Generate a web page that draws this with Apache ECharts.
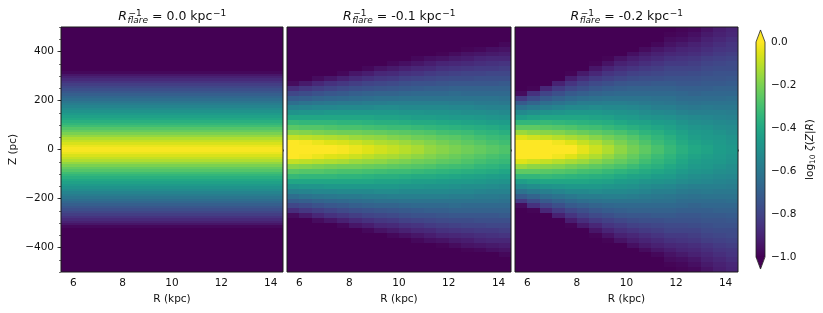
<!DOCTYPE html>
<html>
<head>
<meta charset="utf-8">
<script src="https://cdn.jsdelivr.net/npm/echarts@6/dist/echarts.min.js"></script>
<style>
  html, body { margin: 0; padding: 0; background: #fff; }
  #chart { width: 823px; height: 313px; }
</style>
</head>
<body>
<div id="chart"></div>
<script>
const FONT = 'DejaVu Sans';

// cell centres of the images: R columns (kpc) and |Z| rows (pc), symmetric in Z
const rCols = [5.75, 6.25, 6.75, 7.25, 7.75, 8.25, 8.75, 9.25, 9.75,
  10.25, 10.75, 11.25, 11.75, 12.25, 12.75, 13.25, 13.75, 14.25];
const zHalf = [10, 30, 50, 70, 90, 110, 130, 150, 170, 190, 210, 230, 250,
  270, 290, 310, 330, 350, 370, 390, 410, 430, 450, 470, 490];
const zHalfFine = [5, 15, 25, 35, 45, 55, 65, 75, 85, 95, 105, 115, 125, 135, 145,
  155, 165, 175, 185, 195, 205, 215, 225, 235, 245, 255, 265, 275, 285, 295,
  305, 315, 325, 335, 345, 355, 365, 375, 385, 395, 405, 415, 425, 435, 445,
  455, 465, 475, 485, 495];
const cellR = 0.5;

const flareLabels = ['0.0', '-0.1', '-0.2'];

// log10 zeta(Z|R), no flaring: same vertical profile at every R (rows of zHalfFine)
const profileFlat = [-0.01, -0.03, -0.06, -0.09, -0.12, -0.16, -0.20, -0.24, -0.27, -0.31,
  -0.34, -0.37, -0.40, -0.43, -0.46, -0.49, -0.52, -0.55, -0.58, -0.61,
  -0.64, -0.67, -0.70, -0.73, -0.76, -0.79, -0.82, -0.85, -0.88, -0.91,
  -0.94, -0.98, -1, -1, -1, -1, -1, -1, -1, -1,
  -1, -1, -1, -1, -1, -1, -1, -1, -1, -1];

// R_flare^-1 = -0.1 : one array per R column, values along |Z| (rows of zHalf)
const profileFlare01 = [
  [0.07, 0.00, -0.09, -0.18, -0.26, -0.33, -0.41, -0.49, -0.56, -0.64, -0.71, -0.79, -0.87, -0.97, -1, -1, -1, -1, -1, -1, -1, -1, -1, -1, -1],
  [0.05, -0.01, -0.10, -0.19, -0.27, -0.34, -0.41, -0.48, -0.55, -0.62, -0.70, -0.77, -0.84, -0.93, -1, -1, -1, -1, -1, -1, -1, -1, -1, -1, -1],
  [0.03, -0.03, -0.11, -0.20, -0.27, -0.34, -0.41, -0.48, -0.54, -0.61, -0.68, -0.75, -0.82, -0.89, -0.97, -1, -1, -1, -1, -1, -1, -1, -1, -1, -1],
  [0.01, -0.05, -0.12, -0.21, -0.28, -0.34, -0.41, -0.47, -0.54, -0.60, -0.67, -0.73, -0.80, -0.86, -0.94, -1, -1, -1, -1, -1, -1, -1, -1, -1, -1],
  [-0.01, -0.06, -0.13, -0.22, -0.29, -0.35, -0.41, -0.47, -0.53, -0.59, -0.66, -0.72, -0.78, -0.84, -0.91, -0.98, -1, -1, -1, -1, -1, -1, -1, -1, -1],
  [-0.03, -0.08, -0.15, -0.22, -0.29, -0.35, -0.41, -0.47, -0.53, -0.59, -0.65, -0.70, -0.76, -0.82, -0.88, -0.94, -1, -1, -1, -1, -1, -1, -1, -1, -1],
  [-0.05, -0.10, -0.16, -0.23, -0.30, -0.36, -0.41, -0.47, -0.53, -0.58, -0.64, -0.69, -0.75, -0.80, -0.86, -0.92, -0.98, -1, -1, -1, -1, -1, -1, -1, -1],
  [-0.07, -0.12, -0.17, -0.24, -0.31, -0.37, -0.42, -0.47, -0.52, -0.58, -0.63, -0.68, -0.74, -0.79, -0.84, -0.89, -0.95, -1, -1, -1, -1, -1, -1, -1, -1],
  [-0.09, -0.13, -0.19, -0.25, -0.32, -0.37, -0.42, -0.47, -0.52, -0.57, -0.63, -0.68, -0.73, -0.78, -0.83, -0.88, -0.93, -0.98, -1, -1, -1, -1, -1, -1, -1],
  [-0.11, -0.15, -0.20, -0.26, -0.32, -0.38, -0.43, -0.48, -0.53, -0.57, -0.62, -0.67, -0.72, -0.76, -0.81, -0.86, -0.91, -0.96, -1, -1, -1, -1, -1, -1, -1],
  [-0.13, -0.17, -0.22, -0.27, -0.33, -0.39, -0.44, -0.48, -0.53, -0.57, -0.62, -0.66, -0.71, -0.75, -0.80, -0.85, -0.89, -0.94, -0.98, -1, -1, -1, -1, -1, -1],
  [-0.16, -0.19, -0.23, -0.28, -0.34, -0.39, -0.44, -0.49, -0.53, -0.57, -0.62, -0.66, -0.70, -0.75, -0.79, -0.83, -0.88, -0.92, -0.96, -1, -1, -1, -1, -1, -1],
  [-0.18, -0.21, -0.25, -0.30, -0.35, -0.40, -0.45, -0.49, -0.53, -0.57, -0.62, -0.66, -0.70, -0.74, -0.78, -0.82, -0.86, -0.90, -0.95, -0.99, -1, -1, -1, -1, -1],
  [-0.20, -0.23, -0.26, -0.31, -0.36, -0.41, -0.46, -0.50, -0.54, -0.58, -0.62, -0.65, -0.69, -0.73, -0.77, -0.81, -0.85, -0.89, -0.93, -0.97, -1, -1, -1, -1, -1],
  [-0.22, -0.25, -0.28, -0.32, -0.37, -0.42, -0.46, -0.51, -0.54, -0.58, -0.62, -0.66, -0.69, -0.73, -0.77, -0.80, -0.84, -0.88, -0.92, -0.95, -0.99, -1, -1, -1, -1],
  [-0.24, -0.27, -0.30, -0.34, -0.38, -0.43, -0.47, -0.51, -0.55, -0.59, -0.62, -0.66, -0.69, -0.73, -0.76, -0.80, -0.83, -0.87, -0.90, -0.94, -0.98, -1, -1, -1, -1],
  [-0.26, -0.29, -0.32, -0.35, -0.39, -0.44, -0.48, -0.52, -0.56, -0.59, -0.62, -0.66, -0.69, -0.73, -0.76, -0.79, -0.83, -0.86, -0.89, -0.93, -0.96, -1, -1, -1, -1],
  [-0.28, -0.31, -0.33, -0.37, -0.41, -0.45, -0.49, -0.53, -0.56, -0.60, -0.63, -0.66, -0.69, -0.72, -0.76, -0.79, -0.82, -0.85, -0.89, -0.92, -0.95, -0.98, -1, -1, -1]
];

// R_flare^-1 = -0.2
const profileFlare02 = [
  [0.16, 0.07, -0.05, -0.15, -0.25, -0.34, -0.44, -0.53, -0.62, -0.72, -0.83, -0.97, -1, -1, -1, -1, -1, -1, -1, -1, -1, -1, -1, -1, -1],
  [0.12, 0.04, -0.07, -0.17, -0.25, -0.34, -0.42, -0.51, -0.59, -0.68, -0.77, -0.86, -0.99, -1, -1, -1, -1, -1, -1, -1, -1, -1, -1, -1, -1],
  [0.08, 0.01, -0.09, -0.18, -0.26, -0.33, -0.41, -0.49, -0.57, -0.64, -0.72, -0.80, -0.89, -1, -1, -1, -1, -1, -1, -1, -1, -1, -1, -1, -1],
  [0.04, -0.02, -0.11, -0.19, -0.27, -0.34, -0.41, -0.48, -0.55, -0.62, -0.69, -0.76, -0.83, -0.91, -1, -1, -1, -1, -1, -1, -1, -1, -1, -1, -1],
  [0.00, -0.05, -0.13, -0.21, -0.28, -0.35, -0.41, -0.47, -0.53, -0.60, -0.66, -0.72, -0.79, -0.85, -0.92, -0.99, -1, -1, -1, -1, -1, -1, -1, -1, -1],
  [-0.04, -0.09, -0.15, -0.23, -0.30, -0.36, -0.41, -0.47, -0.53, -0.58, -0.64, -0.70, -0.76, -0.81, -0.87, -0.93, -1, -1, -1, -1, -1, -1, -1, -1, -1],
  [-0.08, -0.12, -0.18, -0.25, -0.31, -0.37, -0.42, -0.47, -0.52, -0.58, -0.63, -0.68, -0.73, -0.78, -0.83, -0.89, -0.94, -0.99, -1, -1, -1, -1, -1, -1, -1],
  [-0.12, -0.16, -0.21, -0.27, -0.33, -0.38, -0.43, -0.48, -0.53, -0.57, -0.62, -0.67, -0.71, -0.76, -0.81, -0.85, -0.90, -0.95, -0.99, -1, -1, -1, -1, -1, -1],
  [-0.17, -0.20, -0.24, -0.29, -0.35, -0.40, -0.45, -0.49, -0.53, -0.57, -0.62, -0.66, -0.70, -0.74, -0.79, -0.83, -0.87, -0.91, -0.95, -1, -1, -1, -1, -1, -1],
  [-0.21, -0.24, -0.27, -0.32, -0.37, -0.42, -0.46, -0.50, -0.54, -0.58, -0.62, -0.66, -0.69, -0.73, -0.77, -0.81, -0.85, -0.89, -0.92, -0.96, -1, -1, -1, -1, -1],
  [-0.25, -0.28, -0.31, -0.35, -0.39, -0.43, -0.48, -0.52, -0.55, -0.59, -0.62, -0.66, -0.69, -0.73, -0.76, -0.80, -0.83, -0.87, -0.90, -0.93, -0.97, -1, -1, -1, -1],
  [-0.29, -0.32, -0.34, -0.37, -0.41, -0.45, -0.49, -0.53, -0.57, -0.60, -0.63, -0.66, -0.69, -0.72, -0.76, -0.79, -0.82, -0.85, -0.88, -0.91, -0.94, -0.98, -1, -1, -1],
  [-0.33, -0.35, -0.37, -0.40, -0.43, -0.46, -0.50, -0.54, -0.57, -0.61, -0.63, -0.66, -0.69, -0.72, -0.75, -0.78, -0.80, -0.83, -0.86, -0.89, -0.92, -0.95, -0.97, -0.99, -1],
  [-0.37, -0.39, -0.41, -0.43, -0.46, -0.49, -0.52, -0.56, -0.59, -0.62, -0.65, -0.67, -0.70, -0.73, -0.75, -0.78, -0.80, -0.83, -0.85, -0.88, -0.90, -0.93, -0.96, -0.98, -0.99],
  [-0.40, -0.42, -0.44, -0.46, -0.48, -0.51, -0.53, -0.57, -0.60, -0.63, -0.65, -0.68, -0.70, -0.73, -0.75, -0.77, -0.80, -0.82, -0.84, -0.87, -0.89, -0.91, -0.94, -0.96, -0.98],
  [-0.42, -0.44, -0.46, -0.47, -0.49, -0.52, -0.54, -0.57, -0.59, -0.62, -0.65, -0.67, -0.70, -0.72, -0.74, -0.76, -0.78, -0.80, -0.82, -0.85, -0.87, -0.89, -0.91, -0.93, -0.95],
  [-0.45, -0.46, -0.47, -0.49, -0.51, -0.53, -0.55, -0.57, -0.60, -0.62, -0.65, -0.67, -0.69, -0.72, -0.74, -0.75, -0.77, -0.79, -0.81, -0.83, -0.85, -0.87, -0.89, -0.91, -0.92],
  [-0.47, -0.48, -0.49, -0.51, -0.52, -0.54, -0.56, -0.58, -0.60, -0.62, -0.64, -0.67, -0.69, -0.71, -0.73, -0.75, -0.77, -0.78, -0.80, -0.82, -0.84, -0.85, -0.87, -0.89, -0.90]
];

const xMajor = [6, 8, 10, 12, 14];
const yMajor = [-400, -200, 0, 200, 400];
const cbMin = -1.0, cbMax = 0.0;

const viridis = ['#440154', '#471365', '#482475', '#463480', '#414487', '#3b528b', '#355f8d',
  '#2f6c8e', '#2a788e', '#25848e', '#21918c', '#1e9c89', '#22a884', '#2fb47c', '#44bf70',
  '#5ec962', '#7ad151', '#9bd93c', '#bddf26', '#dfe318', '#fde725'];

// [R, Z, log10 zeta, cell height]
function cells(columns, zs, dz) {
  const out = [];
  rCols.forEach((r, i) => {
    zs.forEach((z, j) => {
      out.push([r, z, columns[i][j], dz]);
      out.push([r, -z, columns[i][j], dz]);
    });
  });
  return out;
}
const panelData = [
  cells(rCols.map(() => profileFlat), zHalfFine, 10),
  cells(profileFlare01, zHalf, 20),
  cells(profileFlare02, zHalf, 20)
];

const panels = [
  { left: 61, width: 222 },
  { left: 287, width: 224 },
  { left: 515, width: 223 }
];
const plotTop = 27, plotHeight = 245;
const ink = '#111';
const minus = v => (v < 0 ? '\u2212' + String(-v) : String(v));

const grids = [], xAxes = [], yAxes = [], series = [];

panels.forEach((p, i) => {
  grids.push({
    left: p.left, top: plotTop, width: p.width, height: plotHeight,
    show: true, backgroundColor: 'transparent', borderColor: '#1a1a1a', borderWidth: 1,
    z: 10, outerBoundsMode: 'none', containLabel: false
  });
  xAxes.push({
    type: 'value', gridIndex: i, min: 5.5, max: 14.5, position: 'bottom',
    axisLine: { show: false }, splitLine: { show: false },
    axisTick: { show: true, length: 3.5, customValues: xMajor, lineStyle: { color: ink, width: 0.8 } },
    axisLabel: { customValues: xMajor, fontFamily: FONT, fontSize: 10.5, color: ink, margin: 6 },
    name: 'R (kpc)', nameLocation: 'middle', nameGap: 20,
    nameTextStyle: { fontFamily: FONT, fontSize: 10.5, color: ink }
  });
  xAxes.push({
    type: 'value', gridIndex: i, min: 5.5, max: 14.5, interval: 0.5, position: 'bottom',
    axisLine: { show: false }, splitLine: { show: false }, axisLabel: { show: false },
    axisTick: { show: true, length: 2, lineStyle: { color: ink, width: 0.6 } }
  });
  const first = i === 0;
  yAxes.push({
    type: 'value', gridIndex: i, min: -500, max: 500, position: 'left',
    axisLine: { show: false }, splitLine: { show: false },
    axisTick: { show: first, length: 3.5, customValues: yMajor, lineStyle: { color: ink, width: 0.8 } },
    axisLabel: { show: first, customValues: yMajor, formatter: minus, fontFamily: FONT, fontSize: 10.5, color: ink, margin: 7 },
    name: first ? 'Z (pc)' : '', nameLocation: 'middle', nameGap: 42,
    nameTextStyle: { fontFamily: FONT, fontSize: 10.5, color: ink }
  });
  yAxes.push({
    type: 'value', gridIndex: i, min: -500, max: 500, interval: 50, position: 'left',
    axisLine: { show: false }, splitLine: { show: false }, axisLabel: { show: false },
    axisTick: { show: first, length: 2, lineStyle: { color: ink, width: 0.6 } }
  });
  series.push({
    type: 'custom', xAxisIndex: 2 * i, yAxisIndex: 2 * i, clip: true,
    encode: { x: 0, y: 1 },
    data: panelData[i],
    renderItem: (params, api) => {
      const r = api.value(0), z = api.value(1), dz = api.value(3);
      const a = api.coord([r - cellR / 2, z + dz / 2]);
      const b = api.coord([r + cellR / 2, z - dz / 2]);
      const x0 = Math.round(a[0]), x1 = Math.round(b[0]);
      const y0 = Math.round(a[1]), y1 = Math.round(b[1]);
      return {
        type: 'rect',
        shape: { x: x0, y: y0, width: x1 - x0, height: y1 - y0 },
        style: { fill: api.visual('color'), stroke: null }
      };
    }
  });
});

// colorbar
const CB_EXTEND = 0.056;
grids.push({ left: 756, top: 42, width: 9, height: 215, outerBoundsMode: 'none', containLabel: false });
xAxes.push({ type: 'value', gridIndex: 3, min: 0, max: 1, show: false });
yAxes.push({
  type: 'value', gridIndex: 3, min: cbMin, max: cbMax, interval: 0.2, position: 'right',
  axisLine: { show: false }, splitLine: { show: false },
  axisTick: { show: true, length: 3.5, lineStyle: { color: ink, width: 0.8 } },
  axisLabel: {
    formatter: v => (v < 0 ? '\u2212' + (-v).toFixed(1) : v.toFixed(1)),
    fontFamily: FONT, fontSize: 10.5, color: ink, margin: 6
  },
  name: '{n|log}{s|10}{n| }{i|\u03b6}{n|(}{i|Z}{n||}{i|R}{n|)}',
  nameLocation: 'middle', nameGap: 38,
  nameTextStyle: {
    fontFamily: FONT, color: ink,
    rich: {
      n: { fontFamily: FONT, fontSize: 10.5, color: ink },
      i: { fontFamily: FONT, fontSize: 10.5, fontStyle: 'italic', color: ink },
      s: { fontFamily: FONT, fontSize: 7.5, color: ink, padding: [6, 0, 0, 0] }
    }
  }
});
series.push({
  type: 'custom', xAxisIndex: 6, yAxisIndex: 6, clip: false,
  encode: { x: 0, y: 1 },
  data: [[0, cbMax]],
  renderItem: (params, api) => {
    const tl = api.coord([0, cbMax]), br = api.coord([1, cbMin]);
    const x0 = tl[0], x1 = br[0], y0 = tl[1], y1 = br[1];
    const ext = (y1 - y0) * CB_EXTEND, xm = (x0 + x1) / 2;
    return {
      type: 'group',
      children: [
        {
          type: 'rect', shape: { x: x0, y: y0, width: x1 - x0, height: y1 - y0 },
          style: {
            fill: {
              type: 'linear', x: 0, y: 1, x2: 0, y2: 0,
              colorStops: viridis.map((c, k) => ({ offset: k / (viridis.length - 1), color: c }))
            }
          }
        },
        { type: 'polygon', shape: { points: [[x0, y0 + 0.5], [x1, y0 + 0.5], [xm, y0 - ext]] }, style: { fill: viridis[viridis.length - 1] } },
        { type: 'polygon', shape: { points: [[x0, y1 - 0.5], [x1, y1 - 0.5], [xm, y1 + ext]] }, style: { fill: viridis[0] } },
        {
          type: 'polygon',
          shape: { points: [[xm, y0 - ext], [x1, y0], [x1, y1], [xm, y1 + ext], [x0, y1], [x0, y0]] },
          style: { fill: null, stroke: '#222', lineWidth: 0.8 }
        }
      ]
    };
  }
});

// panel titles: R^{-1}_{flare} = value kpc^{-1}
const measureCtx = document.createElement('canvas').getContext('2d');
function textWidth(t, font) { measureCtx.font = font; return measureCtx.measureText(t).width; }
function titleGraphic(cx, label) {
  const big = 12.5, small = 9;
  const fBig = `${big}px "${FONT}"`, fBigI = `italic ${big}px "${FONT}"`;
  const fSmall = `${small}px "${FONT}"`, fSmallI = `italic ${small}px "${FONT}"`;
  const eq = ' = ' + label + ' kpc';
  const sup = '\u22121';
  const wR = textWidth('R', fBigI), wSub = textWidth('flare', fSmallI), wSup = textWidth(sup, fSmall);
  const wEq = textWidth(eq, fBig);
  const wStack = Math.max(wSub, wSup) + 0.5;
  const total = wR + wStack + wEq + wSup;
  const base = 21;
  const mid = size => -0.346 * size;
  let x = cx - total / 2;
  const items = [];
  const put = (text, font, size, px, baseline) => items.push({
    type: 'text', x: px, y: baseline + mid(size),
    style: { text, font, fill: ink, align: 'left', verticalAlign: 'middle' }
  });
  put('R', fBigI, big, x, base); x += wR;
  put('flare', fSmallI, small, x + 0.5, base + 2.5);
  put(sup, fSmall, small, x + 1.5, base - 4.5); x += wStack;
  put(eq, fBig, big, x, base); x += wEq;
  put(sup, fSmall, small, x + 0.5, base - 4.5);
  return { type: 'group', children: items };
}
const graphics = panels.map((p, i) => titleGraphic(p.left + p.width / 2, flareLabels[i]));

const chart = echarts.init(document.getElementById('chart'), null, { renderer: 'canvas' });
chart.setOption({
  animation: false,
  backgroundColor: '#fff',
  textStyle: { fontFamily: FONT },
  grid: grids,
  xAxis: xAxes,
  yAxis: yAxes,
  visualMap: {
    type: 'continuous', show: false, min: cbMin, max: cbMax, dimension: 2,
    seriesIndex: [0, 1, 2], inRange: { color: viridis }
  },
  graphic: graphics,
  series: series
});
</script>
</body>
</html>
